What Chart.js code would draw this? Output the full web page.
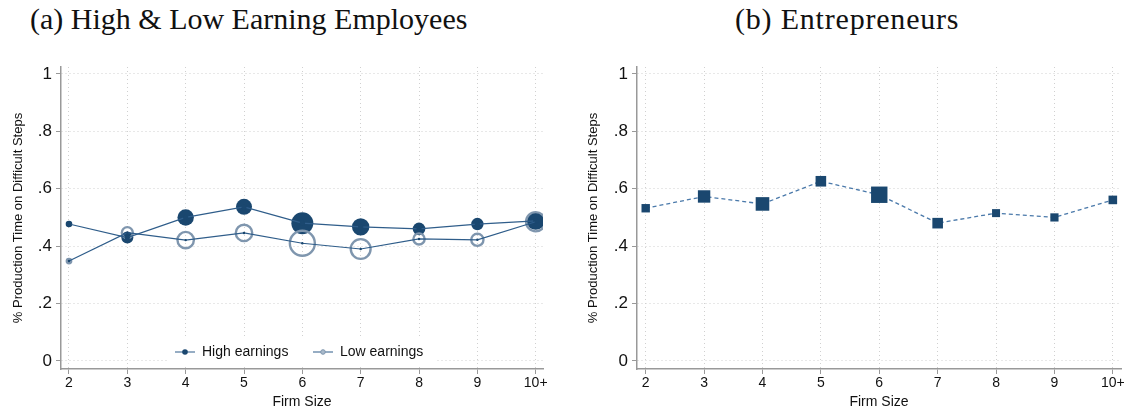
<!DOCTYPE html>
<html lang="en">
<head>
<meta charset="UTF-8">
<title>Production time on difficult steps by firm size</title>
<script src="https://cdn.jsdelivr.net/npm/chart.js"></script>
<style>
  body { margin: 0; width: 1130px; height: 412px; background: #fff; position: relative; overflow: hidden; }
  .title { position: absolute; top: 2px; font-family: "Liberation Serif", serif; font-size: 30px; color: #111; white-space: nowrap; }
  .panel { position: absolute; top: 40px; width: 565px; height: 372px; }
</style>
</head>
<body>
<div class="title" style="left:30px">(a) High &amp; Low Earning Employees</div>
<div class="title" style="left:735px; letter-spacing:0.8px">(b) Entrepreneurs</div>
<div class="panel" style="left:0"><canvas id="chartA" width="565" height="372"></canvas></div>
<div class="panel" style="left:565px"><canvas id="chartB" width="565" height="372"></canvas></div>
<script>
// data
var firmSizes = ['2', '3', '4', '5', '6', '7', '8', '9', '10+'];
var highEarnings = [0.477, 0.43, 0.50, 0.537, 0.48, 0.467, 0.46, 0.477, 0.488];
var lowEarnings = [0.348, 0.447, 0.421, 0.446, 0.41, 0.39, 0.425, 0.422, 0.485];
var entrepreneurs = [0.532, 0.573, 0.547, 0.626, 0.579, 0.48, 0.515, 0.50, 0.561];
// marker sizes (weights)
var highWeight = [3.3, 6, 8.2, 8, 11, 8.7, 6.3, 6.2, 9];
var lowWeight = [2.2, 5.5, 8.2, 8.2, 12.5, 9.9, 5.6, 6.1, 9.6];
var entWeight = [4.2, 6.2, 6.8, 5.3, 8.2, 5.3, 4, 4.1, 4.3];
var yTicks = [0, 0.2, 0.4, 0.6, 0.8, 1];
var yTickLabels = ['0', '.2', '.4', '.6', '.8', '1'];

var navy = '#1a476f';
var lineBlue = '#2f5d8a';
var ringBlue = '#7f96ae';
var sans = 'Liberation Sans';

function pts(vals) {
  return vals.map(function (v, i) { return { x: i, y: v }; });
}

function axes(yWidth, titlePad, xMin, xMax) {
  return {
    x: {
      type: 'linear', min: xMin, max: xMax,
      afterBuildTicks: function (s) { s.ticks = firmSizes.map(function (_, i) { return { value: i }; }); },
      afterFit: function (s) { s.height = 43; },
      ticks: {
        callback: function (v, i) { return firmSizes[i]; },
        font: { family: sans, size: 14 }, color: '#111', padding: 1, maxRotation: 0, autoSkip: false
      },
      grid: { color: '#d0d0d0', tickColor: '#999', tickLength: 5, tickBorderDash: [] },
      border: { color: '#999', width: 1.5, dash: [1, 3] },
      title: { display: true, text: 'Firm Size', font: { family: sans, size: 14 }, color: '#111', padding: { top: 0, bottom: 1 } }
    },
    y: {
      min: -0.028, max: 1.024,
      afterBuildTicks: function (s) { s.ticks = yTicks.map(function (v) { return { value: v }; }); },
      afterFit: function (s) { s.width = yWidth; },
      ticks: {
        callback: function (v, i) { return yTickLabels[i]; },
        font: { family: sans, size: 17 }, color: '#111', padding: 4
      },
      grid: { color: '#d0d0d0', tickColor: '#999', tickLength: 5, tickBorderDash: [] },
      border: { color: '#999', width: 1.5, dash: [1, 3] },
      title: { display: true, text: '% Production Time on Difficult Steps', font: { family: sans, size: 13 }, color: '#111', padding: { top: titlePad, bottom: 2 } }
    }
  };
}

// legend inside the plot area, bottom centre, on a white box
var insideLegend = {
  id: 'insideLegend',
  beforeDatasetsDraw: function (chart) {
    var ctx = chart.ctx, a = chart.chartArea;
    var cx = (a.left + a.right) / 2;
    var left = cx - 134, top = a.bottom - 31;
    ctx.save();
    ctx.fillStyle = '#fff';
    ctx.fillRect(left, top, 269, 28);
    var y = top + 14;
    ctx.lineWidth = 1.2;
    ctx.strokeStyle = lineBlue;
    ctx.beginPath();
    ctx.moveTo(left + 7, y); ctx.lineTo(left + 27, y);
    ctx.moveTo(left + 145, y); ctx.lineTo(left + 165, y);
    ctx.stroke();
    ctx.fillStyle = navy;
    ctx.beginPath(); ctx.arc(left + 17, y, 2.8, 0, Math.PI * 2); ctx.fill();
    ctx.fillStyle = '#a9bacb';
    ctx.strokeStyle = ringBlue;
    ctx.lineWidth = 1;
    ctx.beginPath(); ctx.arc(left + 155, y, 2.3, 0, Math.PI * 2); ctx.fill(); ctx.stroke();
    ctx.fillStyle = '#111';
    ctx.font = '14px "' + sans + '"';
    ctx.textBaseline = 'middle';
    ctx.fillText('High earnings', left + 34, y);
    ctx.fillText('Low earnings', left + 172, y);
    ctx.restore();
  }
};

var common = {
  responsive: false,
  animation: false,
  events: [],
  plugins: { legend: { display: false }, tooltip: { enabled: false } }
};

new Chart(document.getElementById('chartA').getContext('2d'), {
  type: 'line',
  data: {
    datasets: [
      { label: 'Low earnings', data: pts(lowEarnings), borderColor: lineBlue, borderWidth: 1.2,
        pointRadius: 1.2, pointBackgroundColor: navy, pointBorderWidth: 0, order: 1 },
      { label: 'High earnings', data: pts(highEarnings), borderColor: lineBlue, borderWidth: 1.2,
        pointRadius: 2.6, pointBackgroundColor: navy, pointBorderWidth: 0, order: 2 },
      { label: 'Low weight', data: pts(lowEarnings), showLine: false,
        pointRadius: lowWeight, pointBackgroundColor: 'rgba(0,0,0,0)', pointBorderColor: ringBlue, pointBorderWidth: 2.4, order: 3 },
      { label: 'High weight', data: pts(highEarnings), showLine: false,
        pointRadius: highWeight, pointBackgroundColor: navy, pointBorderWidth: 0, order: 4 }
    ]
  },
  options: Object.assign({}, common, {
    layout: { padding: { left: 0, right: 22, top: 27, bottom: 0 } },
    scales: axes(61, 11, -0.137, 8.125)
  }),
  plugins: [insideLegend]
});

new Chart(document.getElementById('chartB').getContext('2d'), {
  type: 'line',
  data: {
    datasets: [
      { label: 'Entrepreneurs', data: pts(entrepreneurs), borderColor: '#4a79aa', borderWidth: 1.3, borderDash: [4, 3],
        pointStyle: 'rect', pointRadius: entWeight.map(function (h) { return h * Math.SQRT2; }),
        pointBackgroundColor: navy, pointBorderWidth: 0 }
    ]
  },
  options: Object.assign({}, common, {
    layout: { padding: { left: 0, right: 9, top: 27, bottom: 0 } },
    scales: axes(72, 21, -0.149, 8.14)
  })
});
</script>
</body>
</html>
